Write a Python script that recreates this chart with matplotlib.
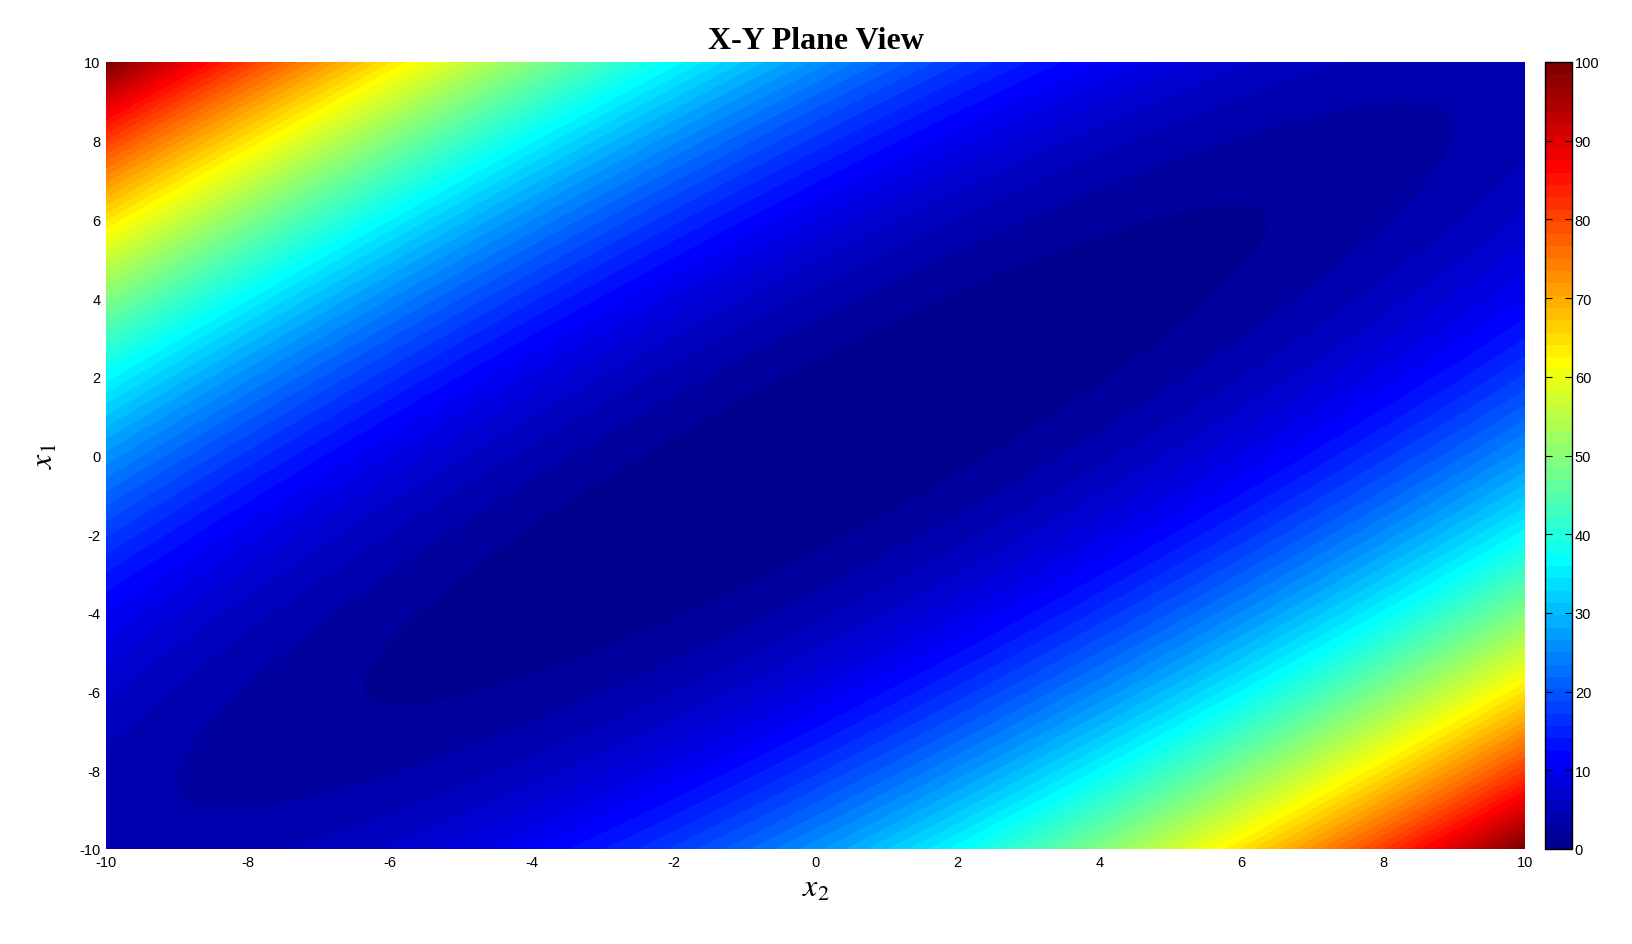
import numpy as np
import matplotlib
matplotlib.use("Agg")
import matplotlib.pyplot as plt
from matplotlib.colors import ListedColormap

# Matyas function: f = A*(x1^2 + x2^2) - B*x1*x2
coef_sq = 0.26
coef_cross = 0.48
x_range = [-10, 10]
x_ticks = [-10, -8, -6, -4, -2, 0, 2, 4, 6, 8, 10]
cbar_ticks = [0, 10, 20, 30, 40, 50, 60, 70, 80, 90, 100]
n_colors = 64
title = "X-Y Plane View"

plt.rcParams['mathtext.fontset'] = 'stix'


def matlab_jet(m):
    n = int(np.ceil(m / 4))
    u = np.concatenate([np.arange(1, n + 1) / n, np.ones(n - 1), np.arange(n, 0, -1) / n])
    g = int(np.ceil(n / 2)) - (1 if m % 4 == 1 else 0) + np.arange(1, len(u) + 1)
    r = g + n
    b = g - n
    J = np.zeros((m, 3))
    for idx, col in ((r, 0), (g, 1), (b, 2)):
        mask = (idx >= 1) & (idx <= m)
        J[idx[mask] - 1, col] = u[mask]
    return J


x2 = np.linspace(x_range[0], x_range[1], 401)
x1 = np.linspace(x_range[0], x_range[1], 401)
X2, X1 = np.meshgrid(x2, x1)
Z = coef_sq * (X1**2 + X2**2) - coef_cross * X1 * X2

cmap = ListedColormap(matlab_jet(n_colors))
levels = np.linspace(0, 100, n_colors + 1)

fig = plt.figure(figsize=(16.32, 9.45), dpi=100)
W, H = 1632, 945
ax = fig.add_axes([106 / W, 1 - 850 / H, (1525 - 106) / W, (850 - 63) / H])
cax = fig.add_axes([1545 / W, 1 - 850 / H, (1572 - 1545) / W, (850 - 63) / H])

cs = ax.contourf(X2, X1, Z, levels=levels, cmap=cmap, vmin=0, vmax=100, antialiased=False)
ax.set_xlim(x_range)
ax.set_ylim(x_range)
ax.set_xticks(x_ticks)
ax.set_yticks(x_ticks)
ax.set_xticklabels([str(t) for t in x_ticks], fontfamily='Liberation Sans', fontsize=10.5)
ax.set_yticklabels([str(t) for t in x_ticks], fontfamily='Liberation Sans', fontsize=10.5)
ax.tick_params(direction='in', length=0, pad=4)
for s in ax.spines.values():
    s.set_visible(False)

ax.set_title(title, fontfamily='Liberation Serif', fontweight='bold', fontsize=23, pad=10)
ax.set_xlabel(r'$x_2$', fontsize=23, labelpad=2)
ax.set_ylabel(r'$x_1$', fontsize=23, labelpad=14)

cb = fig.colorbar(cs, cax=cax, ticks=cbar_ticks)
cb.ax.set_yticklabels([str(t) for t in cbar_ticks], fontfamily='Liberation Sans', fontsize=10.5)
cb.ax.tick_params(direction='in', length=5, width=0.8, left=True, right=True, pad=2)
cb.outline.set_linewidth(1.0)

fig.savefig('out.png', dpi=100)
